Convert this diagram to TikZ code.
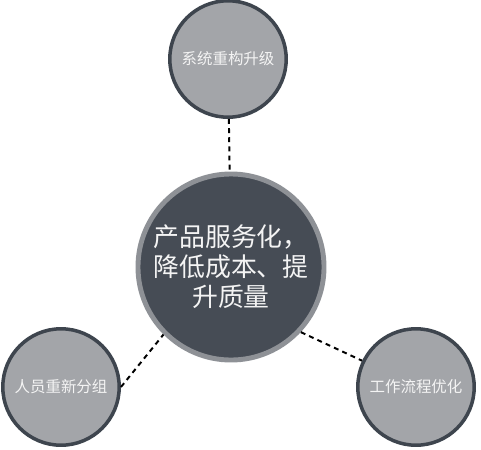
\documentclass[tikz,border=0pt]{standalone}
\usepackage{fontspec}
\newfontfamily\cjk{Noto Sans CJK SC}
\definecolor{hubfill}{HTML}{464C55}
\definecolor{hubring}{HTML}{8E9196}
\definecolor{leaffill}{HTML}{A3A5A9}
\definecolor{leafring}{HTML}{3E454E}
\definecolor{textwhite}{HTML}{F4F4F4}
\begin{document}
\begin{tikzpicture}
	[x=0.025cm,y=-0.025cm,
	 hub/.style={circle,draw=hubring,line width=3.5pt,fill=hubfill,minimum size=4.65cm,inner sep=0pt,
	   text=textwhite,align=center,font=\cjk\fontsize{18.4pt}{21.3pt}\selectfont},
	 leaf/.style={circle,draw=leafring,line width=2.5pt,fill=leaffill,minimum size=2.91cm,inner sep=0pt,
	   text=textwhite,font=\cjk\fontsize{11pt}{13pt}\selectfont},
	 link/.style={line width=1.4pt,dash pattern=on 3.5pt off 3pt}]
    \useasboundingbox (0,0) rectangle (481,449);

    \node[hub] (A) at (231,267) {产品服务化，\\降低成本、提\\升质量};
    \node[leaf] (B) at (228,59) {系统重构升级};
    \node[leaf] (C) at (61,387) {人员重新分组};
    \node[leaf] (D) at (416,387) {工作流程优化};

    \draw[link] (B) -- (A);
    \draw[link] (C.0) -- (A.225);
    \draw[link] (A.317) -- (D.154);

\end{tikzpicture}
\end{document}
